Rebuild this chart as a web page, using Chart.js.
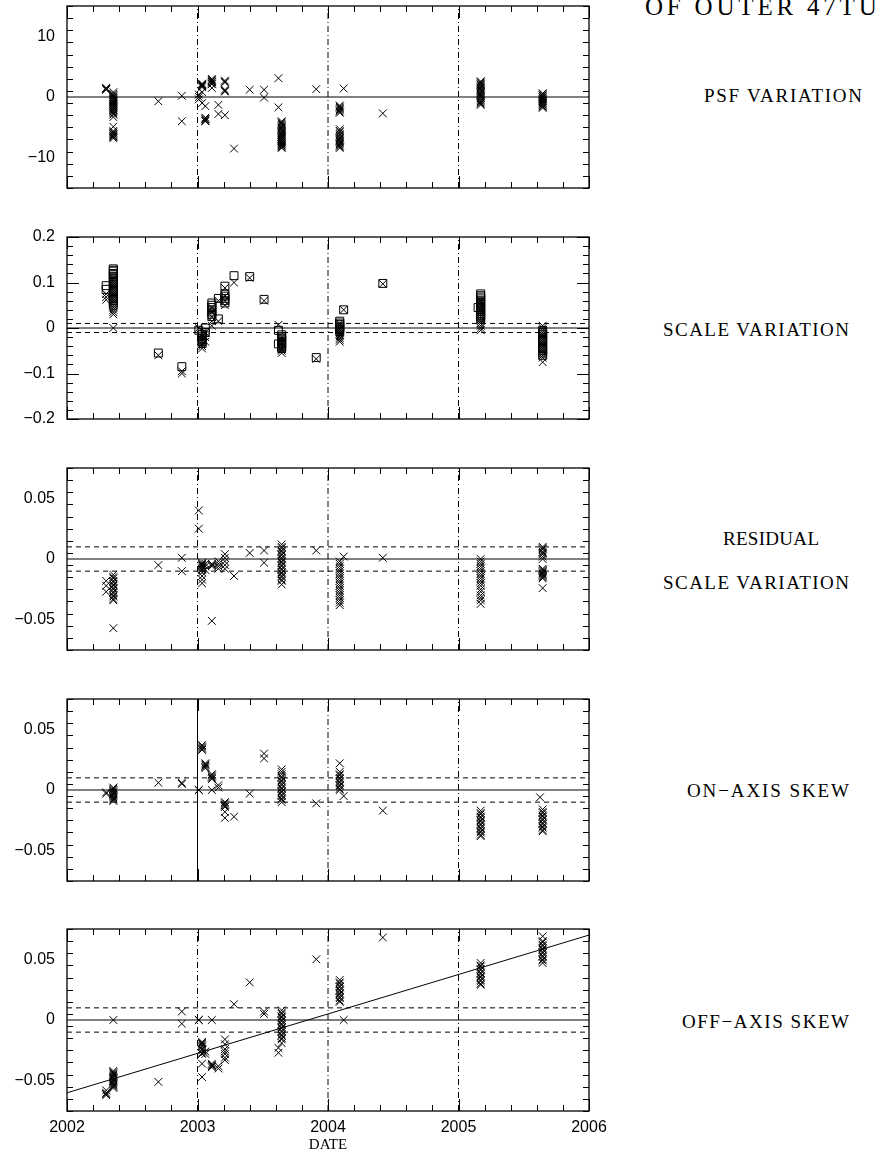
<!DOCTYPE html>
<html lang="en">
<head>
<meta charset="UTF-8">
<title>Distortion of outer 47Tuc</title>
<script src="https://cdn.jsdelivr.net/npm/chart.js@4"></script>
<style>
  body { margin: 0; background: #fff; }
  #page { position: relative; width: 880px; height: 1156px; overflow: hidden; background: #fff; }
  #page canvas { position: absolute; left: 0; }
  .side {
    position: absolute;
    font-family: 'Liberation Serif', 'DejaVu Serif', serif;
    line-height: 1;
    white-space: nowrap;
    color: #000;
  }
</style>
</head>
<body>
<div id="page">
  <canvas id="psf" width="640" height="210" style="top:-8px"></canvas>
  <canvas id="scale" width="640" height="210" style="top:223px"></canvas>
  <canvas id="resid" width="640" height="210" style="top:454px"></canvas>
  <canvas id="onaxis" width="640" height="210" style="top:685px"></canvas>
  <canvas id="offaxis" width="640" height="241" style="top:915px"></canvas>

  <div class="side" style="left:645px; top:-6px; font-size:25px; letter-spacing:3.8px">OF OUTER 47TUC</div>
  <div class="side fit" data-w="158" style="left:704px; top:85.5px; font-size:19px">PSF VARIATION</div>
  <div class="side fit" data-w="186" style="left:663px; top:319.5px; font-size:19px">SCALE VARIATION</div>
  <div class="side fit" data-w="96" style="left:723px; top:528.5px; font-size:19px">RESIDUAL</div>
  <div class="side fit" data-w="186" style="left:663px; top:572.5px; font-size:19px">SCALE VARIATION</div>
  <div class="side fit" data-w="162" style="left:687px; top:780.5px; font-size:19px">ON−AXIS SKEW</div>
  <div class="side fit" data-w="167" style="left:682px; top:1011.5px; font-size:19px">OFF−AXIS SKEW</div>
</div>

<script>
// observation epochs (decimal year); every panel lists its values per epoch
const epochs = [2002.30, 2002.355, 2002.70, 2002.88, 2003.01, 2003.035, 2003.06, 2003.11,
                2003.16, 2003.21, 2003.28, 2003.40, 2003.51, 2003.62, 2003.645, 2003.91,
                2004.09, 2004.12, 2004.42, 2005.15, 2005.17, 2005.625, 2005.645];

const yearTicks = [2002, 2003, 2004, 2005, 2006];
const markYears = [2003, 2004, 2005];
const band = 0.01;

const psfTicks = [-10, 0, 10];
const scaleTicks = [-0.2, -0.1, 0, 0.1, 0.2];
const skewTicks = [-0.05, 0, 0.05];

const psfValues = [
  [1.5, 1.4, 1.3, 1.2],
  [0.8, 0.5, 0.3, 0.1, 0, -0.2, -0.3, -0.5, -0.6, -0.8, -0.9, -1.1, -1.2, -1.4, -1.5, -1.7, -1.8, -2.0, -2.1,
   -2.3, -2.5, -2.7, -2.9, -3.3, -4.9, -5.6, -5.8, -5.9, -6.1, -6.2, -6.4, -6.5, -6.6, -6.8],
  [-0.7],
  [0.2, -4.0],
  [0.4, 0.0, -0.4],
  [2.2, 2.1, 2.0, 1.9, 1.8, 1.6, 0.8, -1.0],
  [-1.5, -3.4, -3.6, -3.7, -3.9, -4.0],
  [3.0, 2.8, 2.7, 2.5, 2.4, 2.2, 2.1, 1.5],
  [-1.3, -2.8],
  [2.7, 2.5, 2.4, 1.2, 1.0, 0.9, -3.0],
  [-8.5],
  [1.2],
  [1.2, -0.1],
  [3.1, -1.7],
  [-4.0, -4.2, -4.4, -4.6, -4.8, -5.0, -5.2, -5.4, -5.6, -5.8, -6.0, -6.2, -6.3, -6.5, -6.6, -6.8, -6.9,
   -7.1, -7.2, -7.4, -7.5, -7.7, -7.8, -8.0, -8.1, -8.3, -8.4],
  [1.3],
  [-1.4, -1.6, -1.8, -2.0, -2.2, -2.4, -2.6, -5.3, -5.6, -5.8, -6.1, -6.3, -6.6, -6.8, -7.0, -7.2, -7.4,
   -7.6, -7.8, -8.0, -8.2, -8.4],
  [1.4],
  [-2.7],
  [],
  [2.6, 2.4, 2.3, 2.1, 2.0, 1.8, 1.6, 1.4, 1.2, 1.0, 0.8, 0.6, 0.4, 0.2, 0.0, -0.2, -0.5, -0.7, -0.9, -1.1, -1.3],
  [],
  [0.6, 0.5, 0.3, 0.2, 0.0, -0.1, -0.3, -0.4, -0.6, -0.7, -0.9, -1.0, -1.2, -1.3, -1.5, -1.6, -1.8]
];

// scale variation: crosses and squares
const scaleCross = [
  [0.075, 0.068, 0.062],
  [0.11, 0.105, 0.10, 0.095, 0.09, 0.085, 0.08, 0.075, 0.07, 0.065, 0.06, 0.055, 0.05, 0.045, 0.04, 0.035, 0.03, 0.0],
  [-0.06],
  [-0.095, -0.10],
  [0.0],
  [-0.02, -0.025, -0.03, -0.035, -0.04, -0.045],
  [-0.01, -0.02, -0.03],
  [0.045, 0.035, 0.025, 0.015, 0.005],
  [0.06, 0.015],
  [0.088, 0.07, 0.06, 0.05],
  [0.10],
  [0.11],
  [0.06],
  [0.007],
  [-0.02, -0.024, -0.028, -0.032, -0.036, -0.04, -0.044, -0.047, -0.05, -0.055],
  [-0.068],
  [0.01, 0.005, 0.0, -0.004, -0.008, -0.012, -0.015, -0.018, -0.022, -0.026, -0.03],
  [0.04],
  [0.097],
  [],
  [0.06, 0.055, 0.05, 0.045, 0.04, 0.035, 0.03, 0.025, 0.02, 0.015, 0.01, 0.005, 0.0, -0.005],
  [],
  [0.005, 0.0, -0.005, -0.01, -0.015, -0.02, -0.025, -0.03, -0.035, -0.04, -0.045, -0.05, -0.055, -0.06,
   -0.065, -0.075]
];
const scaleSquare = [
  [0.093, 0.085],
  [0.13, 0.127, 0.125, 0.12, 0.118, 0.114, 0.11, 0.105, 0.1, 0.095, 0.09, 0.085, 0.08, 0.075, 0.07, 0.065,
   0.06, 0.055, 0.05],
  [-0.055],
  [-0.085],
  [-0.005],
  [-0.01, -0.014, -0.018, -0.022, -0.026, -0.03, -0.034],
  [0.0, -0.01],
  [0.055, 0.05, 0.045, 0.04, 0.035, 0.03, 0.025],
  [0.065, 0.02],
  [0.092, 0.075, 0.07, 0.065, 0.06, 0.055],
  [0.115],
  [0.113],
  [0.063],
  [-0.005, -0.035],
  [-0.015, -0.019, -0.022, -0.026, -0.03, -0.034, -0.038, -0.042, -0.045],
  [-0.065],
  [0.015, 0.011, 0.008, 0.004, 0.0, -0.004, -0.008],
  [0.04],
  [0.098],
  [0.045],
  [0.075, 0.071, 0.068, 0.064, 0.06, 0.056, 0.052, 0.048, 0.044, 0.04, 0.036, 0.032, 0.028, 0.024, 0.02],
  [],
  [-0.005, -0.01, -0.015, -0.02, -0.025, -0.03, -0.035, -0.04, -0.045, -0.05, -0.055, -0.06]
];

const residValues = [
  [-0.018, -0.022, -0.027],
  [-0.013, -0.015, -0.016, -0.018, -0.019, -0.021, -0.022, -0.024, -0.025, -0.027, -0.028, -0.03, -0.031,
   -0.033, -0.034, -0.057],
  [-0.005],
  [0.001, -0.01],
  [0.04, 0.025],
  [-0.003, -0.004, -0.005, -0.006, -0.007, -0.008, -0.009, -0.011, -0.014, -0.017, -0.02],
  [-0.004, -0.006, -0.009],
  [-0.004, -0.005, -0.006, -0.051],
  [-0.002, -0.004, -0.006, -0.008],
  [0.004, 0.001, -0.002, -0.005, -0.008],
  [-0.014],
  [0.005],
  [0.007, -0.003],
  [],
  [0.012, 0.01, 0.009, 0.007, 0.006, 0.004, 0.003, 0.001, 0.0, -0.002, -0.003, -0.005, -0.006, -0.008,
   -0.009, -0.011, -0.012, -0.014, -0.015, -0.017, -0.018, -0.021],
  [0.007],
  [-0.002, -0.004, -0.006, -0.008, -0.01, -0.012, -0.014, -0.016, -0.018, -0.02, -0.022, -0.024, -0.026,
   -0.028, -0.03, -0.032, -0.034, -0.036, -0.038],
  [0.002],
  [0.001],
  [],
  [0.0, -0.002, -0.004, -0.006, -0.008, -0.01, -0.012, -0.014, -0.016, -0.018, -0.02, -0.022, -0.025,
   -0.027, -0.03, -0.032, -0.034, -0.037],
  [],
  [0.01, 0.009, 0.008, 0.006, 0.005, 0.004, 0.002, 0.0, -0.008, -0.009, -0.01, -0.011, -0.012, -0.013,
   -0.014, -0.015, -0.016, -0.024]
];

const onAxisValues = [
  [-0.002, -0.003],
  [0.002, 0.001, 0.0, -0.001, -0.002, -0.003, -0.004, -0.005, -0.006, -0.007, -0.008, -0.009],
  [0.006],
  [0.006, 0.005],
  [0.0, 0.0],
  [0.037, 0.036, 0.035, 0.034, 0.033],
  [0.022, 0.021, 0.02, 0.019, 0.018],
  [0.013, 0.012, 0.011, 0.01, 0.009, 0.0],
  [0.004, 0.002],
  [-0.01, -0.011, -0.012, -0.013, -0.014, -0.018, -0.023],
  [-0.022],
  [-0.003],
  [0.03, 0.026],
  [],
  [0.017, 0.015, 0.013, 0.011, 0.01, 0.008, 0.007, 0.005, 0.004, 0.002, 0.001, -0.001, -0.002, -0.004,
   -0.005, -0.007, -0.008, -0.01],
  [-0.011],
  [0.022, 0.015, 0.013, 0.012, 0.01, 0.009, 0.007, 0.006, 0.004, 0.003, 0.001, 0.0],
  [-0.005],
  [-0.017],
  [],
  [-0.017, -0.019, -0.02, -0.022, -0.023, -0.025, -0.026, -0.028, -0.029, -0.031, -0.032, -0.034, -0.035,
   -0.037, -0.038],
  [-0.006],
  [-0.016, -0.018, -0.019, -0.021, -0.022, -0.024, -0.025, -0.027, -0.028, -0.03, -0.031, -0.033, -0.034]
];

const offAxisValues = [
  [-0.058, -0.06, -0.061, -0.062],
  [0.0, -0.042, -0.043, -0.044, -0.045, -0.046, -0.047, -0.048, -0.049, -0.05, -0.051, -0.052, -0.053,
   -0.054, -0.055, -0.056],
  [-0.051],
  [0.007, -0.003],
  [0.0, 0.0],
  [-0.018, -0.019, -0.02, -0.021, -0.022, -0.024, -0.025, -0.027, -0.028, -0.036, -0.047],
  [-0.026, -0.028],
  [0.0, -0.036, -0.037, -0.038, -0.039],
  [-0.038, -0.04],
  [-0.016, -0.02, -0.024, -0.026, -0.028, -0.031, -0.033],
  [0.013],
  [0.031],
  [0.007, 0.005],
  [-0.023, -0.027],
  [0.008, 0.006, 0.005, 0.003, 0.002, 0.0, -0.001, -0.003, -0.004, -0.006, -0.007, -0.009, -0.01, -0.012,
   -0.013, -0.015, -0.016, -0.019],
  [0.05],
  [0.033, 0.031, 0.03, 0.028, 0.027, 0.025, 0.024, 0.022, 0.021, 0.019, 0.018, 0.016, 0.015],
  [0.0],
  [0.068],
  [],
  [0.047, 0.045, 0.044, 0.042, 0.041, 0.039, 0.038, 0.036, 0.035, 0.033, 0.032, 0.03, 0.029],
  [],
  [0.069, 0.065, 0.064, 0.062, 0.061, 0.059, 0.058, 0.056, 0.055, 0.053, 0.052, 0.05, 0.049, 0.047]
];

// linear fit through the off-axis skew
const fitYears = [2002, 2006];
const fitValues = [-0.06, 0.07];

const sansFont = "'Liberation Sans', Arial, sans-serif";
const serifFont = "'Liberation Serif', 'DejaVu Serif', serif";

function points(values) {
  const out = [];
  values.forEach((vals, i) => vals.forEach(v => out.push({ x: epochs[i], y: v })));
  return out;
}

function marks(values, style) {
  return {
    data: points(values),
    pointStyle: style || 'crossRot',
    pointRadius: style === 'rect' ? 5.6 : 5.5,
    pointBorderWidth: 1,
    pointBorderColor: '#000',
    pointBackgroundColor: 'rgba(0,0,0,0)',
    showLine: false
  };
}

function line(data, dash) {
  return {
    data: data,
    showLine: true,
    pointRadius: 0,
    borderColor: '#000',
    borderWidth: 1,
    borderDash: dash || [],
    fill: false
  };
}

// zero line, +-band and the year markers
function guides(lim, withBand, solidYear) {
  const sets = [line([{ x: 2002, y: 0 }, { x: 2006, y: 0 }])];
  if (withBand) {
    sets.push(line([{ x: 2002, y: band }, { x: 2006, y: band }], [5, 4]));
    sets.push(line([{ x: 2002, y: -band }, { x: 2006, y: -band }], [5, 4]));
  }
  markYears.forEach(yr => {
    const dash = yr === solidYear ? [] : [6, 3, 1, 3];
    sets.push(line([{ x: yr, y: -lim }, { x: yr, y: lim }], dash));
  });
  return sets;
}

function tickText(v) {
  if (v === 0) return '0';
  return (v < 0 ? '\u2212' : '') + Math.abs(v);
}

// box with inward major/minor ticks on all four sides
const framePlugin = {
  id: 'frame',
  afterDatasetsDraw(chart, args, o) {
    const { ctx, chartArea: a, scales: { x, y } } = chart;
    ctx.save();
    ctx.strokeStyle = '#000';
    ctx.lineWidth = 1.3;
    ctx.strokeRect(a.left, a.top, a.right - a.left, a.bottom - a.top);
    ctx.lineWidth = 1;
    const nx = Math.round((x.max - x.min) / o.xMinor);
    for (let i = 0; i <= nx; i++) {
      const v = x.min + i * o.xMinor;
      const r = v / o.xMajor;
      const len = Math.abs(r - Math.round(r)) < 1e-6 ? 12 : 6;
      const px = Math.round(x.getPixelForValue(v)) + 0.5;
      ctx.beginPath();
      ctx.moveTo(px, a.bottom); ctx.lineTo(px, a.bottom - len);
      ctx.moveTo(px, a.top); ctx.lineTo(px, a.top + len);
      ctx.stroke();
    }
    const ny = Math.round((y.max - y.min) / o.yMinor);
    for (let i = 0; i <= ny; i++) {
      const v = y.min + i * o.yMinor;
      const r = v / o.yMajor;
      const len = Math.abs(r - Math.round(r)) < 1e-6 ? 12 : 6;
      const py = Math.round(y.getPixelForValue(v)) + 0.5;
      ctx.beginPath();
      ctx.moveTo(a.left, py); ctx.lineTo(a.left + len, py);
      ctx.moveTo(a.right, py); ctx.lineTo(a.right - len, py);
      ctx.stroke();
    }
    ctx.restore();
  }
};

function panel(id, cfg) {
  return new Chart(document.getElementById(id), {
    type: 'scatter',
    data: { datasets: cfg.datasets },
    options: {
      responsive: false,
      animation: false,
      events: [],
      layout: { padding: { top: 14, right: 51, left: 0, bottom: 0 } },
      plugins: {
        legend: { display: false },
        tooltip: { enabled: false },
        frame: { xMinor: 0.2, xMajor: 1, yMinor: cfg.yMinor, yMajor: cfg.yMajor }
      },
      scales: {
        x: {
          type: 'linear',
          min: 2002,
          max: 2006,
          grid: { display: false, drawTicks: false },
          border: { display: false },
          ticks: {
            display: !!cfg.showX,
            padding: 7,
            color: '#000',
            font: { family: sansFont, size: 16 },
            maxRotation: 0,
            autoSkip: false,
            callback: v => String(v)
          },
          title: {
            display: !!cfg.showX,
            text: 'DATE',
            color: '#000',
            font: { family: serifFont, size: 15 },
            padding: { top: 0, bottom: 2 }
          },
          afterBuildTicks: s => { s.ticks = yearTicks.map(v => ({ value: v })); },
          afterFit: s => {
            s.height = cfg.showX ? 45 : 14;
            s.paddingLeft = 0; s.paddingRight = 0;
          }
        },
        y: {
          min: -cfg.lim,
          max: cfg.lim,
          grid: { display: false, drawTicks: false },
          border: { display: false },
          ticks: {
            padding: 12,
            color: '#000',
            font: { family: sansFont, size: 16 },
            autoSkip: false,
            callback: v => tickText(v)
          },
          afterBuildTicks: s => { s.ticks = cfg.yTicks.map(v => ({ value: v })); },
          afterFit: s => {
            s.width = 67;
            s.paddingTop = 0; s.paddingBottom = 0;
          }
        }
      }
    },
    plugins: [framePlugin]
  });
}

panel('psf', {
  lim: 15, yTicks: psfTicks, yMinor: 2, yMajor: 10,
  datasets: guides(15, false).concat([marks(psfValues)])
});

panel('scale', {
  lim: 0.2, yTicks: scaleTicks, yMinor: 0.02, yMajor: 0.1,
  datasets: guides(0.2, true).concat([marks(scaleSquare, 'rect'), marks(scaleCross)])
});

panel('resid', {
  lim: 0.075, yTicks: skewTicks, yMinor: 0.01, yMajor: 0.05,
  datasets: guides(0.075, true).concat([marks(residValues)])
});

panel('onaxis', {
  lim: 0.075, yTicks: skewTicks, yMinor: 0.01, yMajor: 0.05,
  datasets: guides(0.075, true, 2003).concat([marks(onAxisValues)])
});

panel('offaxis', {
  lim: 0.075, yTicks: skewTicks, yMinor: 0.01, yMajor: 0.05, showX: true,
  datasets: guides(0.075, true).concat([
    line(fitYears.map((x, i) => ({ x: x, y: fitValues[i] }))),
    marks(offAxisValues)
  ])
});

// stretch the side labels to the widths of the original lettering
document.querySelectorAll('.side.fit').forEach(el => {
  const target = +el.dataset.w;
  const n = el.textContent.length;
  const w = el.getBoundingClientRect().width;
  el.style.letterSpacing = ((target - w) / (n - 1)) + 'px';
});
</script>
</body>
</html>
